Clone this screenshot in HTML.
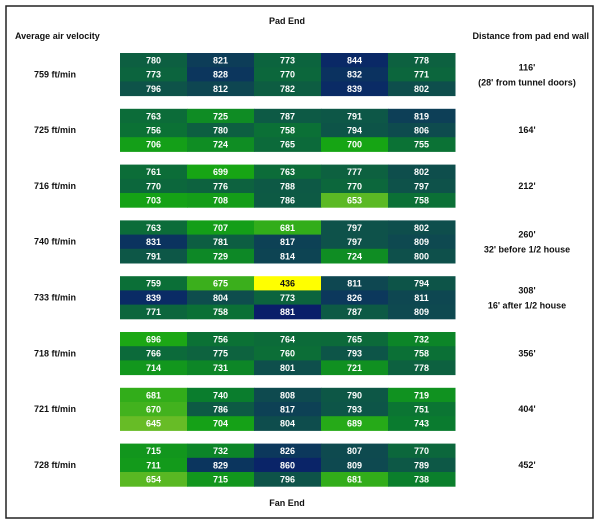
<!DOCTYPE html>
<html><head><meta charset="utf-8"><style>
body{margin:0;background:#fff;width:600px;height:525px;overflow:hidden}
svg{display:block;font-family:"Liberation Sans",sans-serif;font-weight:bold}
</style></head><body>
<svg id="chart" width="600" height="525">
<rect x="6" y="6" width="587" height="512" fill="none" stroke="#222" stroke-width="1.5"/>
<text x="287" y="24" font-size="9" text-anchor="middle" fill="#111">Pad End</text>
<text x="15" y="39" font-size="9" fill="#111">Average air velocity</text>
<text x="589" y="39" font-size="9" text-anchor="end" fill="#111">Distance from pad end wall</text>
<text x="287" y="506" font-size="9" text-anchor="middle" fill="#111">Fan End</text>
<g id="cells"></g>
</svg>
<script>
const velocities=["759 ft/min","725 ft/min","716 ft/min","740 ft/min","733 ft/min","718 ft/min","721 ft/min","728 ft/min"];
const distances=[["116'","(28' from tunnel doors)"],["164'"],["212'"],["260'","32' before 1/2 house"],["308'","16' after 1/2 house"],["356'"],["404'"],["452'"]];
const values=[
[[780,821,773,844,778],[773,828,770,832,771],[796,812,782,839,802]],
[[763,725,787,791,819],[756,780,758,794,806],[706,724,765,700,755]],
[[761,699,763,777,802],[770,776,788,770,797],[703,708,786,653,758]],
[[763,707,681,797,802],[831,781,817,797,809],[791,729,814,724,800]],
[[759,675,436,811,794],[839,804,773,826,811],[771,758,881,787,809]],
[[696,756,764,765,732],[766,775,760,793,758],[714,731,801,721,778]],
[[681,740,808,790,719],[670,786,817,793,751],[645,704,804,689,743]],
[[715,732,826,807,770],[711,829,860,809,789],[654,715,796,681,738]]];
const stops=[[640,[110,190,40]],[700,[22,165,20]],[740,[10,125,45]],[780,[13,95,65]],[810,[14,72,80]],[840,[10,42,102]],[880,[10,30,105]]];
function color(v){
  if(v<500)return "#ffff00";
  if(v<=stops[0][0])return "rgb("+stops[0][1]+")";
  for(let i=1;i<stops.length;i++){if(v<=stops[i][0]){const a=stops[i-1],b=stops[i],t=(v-a[0])/(b[0]-a[0]);return "rgb("+a[1].map((c,k)=>Math.round(c+(b[1][k]-c)*t)).join(",")+")";}}
  return "rgb("+stops[stops.length-1][1]+")";
}
const X0=120,CW=67,Y0=53,GS=55.8,RH=14.2;
const xPos=c=>X0+c*CW, yPos=(g,r)=>Y0+g*GS+r*RH;
const NS="http://www.w3.org/2000/svg",root=document.getElementById("cells");
function mk(tag,attrs,txt){const e=document.createElementNS(NS,tag);for(const k in attrs)e.setAttribute(k,attrs[k]);if(txt!==undefined)e.textContent=txt;root.appendChild(e);return e;}
values.forEach((grp,g)=>{
  const mid=yPos(g,1.5);
  const lv=mk("text",{x:55,y:mid+3,"font-size":9,"text-anchor":"middle",fill:"#111"},velocities[g]);
  
  
  const d=distances[g];
  d.forEach((s,i)=>{
    const yy=d.length===1?mid+3:mid-4+i*15;
    const t=mk("text",{x:527,y:yy,"font-size":9,"text-anchor":"middle",fill:"#111"},s);
    
    
  });
  grp.forEach((row,r)=>row.forEach((v,c)=>{
    const rc=mk("rect",{x:xPos(c),y:yPos(g,r),width:CW+0.5,height:RH+0.5,fill:color(v)});
    
    
    const t=mk("text",{x:xPos(c)+CW/2,y:yPos(g,r)+10.5,"font-size":9,"text-anchor":"middle",fill:v<500?"#111":"#fff"},v);
    
    
  }));
});
</script>
</body></html>
